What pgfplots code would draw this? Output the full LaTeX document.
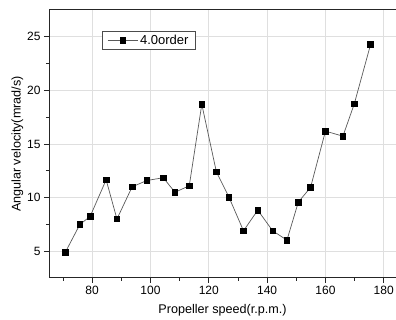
\documentclass[border=0pt]{standalone}
\usepackage{pgfplots}
\pgfplotsset{compat=1.18}
\usepackage{fontspec}
\setmainfont{Liberation Sans}
\begin{document}
\begin{tikzpicture}[x=1pt,y=1pt]
\useasboundingbox (-49,-42) rectangle (347,278);
\begin{axis}[
  scale only axis,
  width=347pt, height=268pt,
  xmin=65.2, xmax=184.2,
  ymin=2.5, ymax=27.5,
  axis x line*=box,
  axis y line*=left,
  axis line style={line width=1pt, black!85},
  xtick={80,100,...,180},
  minor xtick={70,90,...,170},
  ytick={5,10,...,25},
  minor ytick={7.5,12.5,...,22.5},
  tick align=outside,
  major tick length=5pt,
  minor tick length=3pt,
  tick style={black!85, line width=0.8pt},
  xtick pos=bottom,
  grid=major,
  major grid style={gray!25, line width=0.6pt},
  /pgf/number format/assume math mode=true,
  tick label style={font=\fontsize{12}{14}\selectfont},
  xlabel={Propeller speed(r.p.m.)},
  ylabel={Angular velocity(mrad/s)},
  label style={font=\fontsize{12.6}{14}\selectfont},
  xlabel style={yshift=-2pt},
  ylabel style={yshift=-3pt},
  legend style={at={(0.153,0.922)}, anchor=north west, draw=black!70, line width=0.6pt,
    font=\fontsize{13}{15}\selectfont, inner xsep=5pt, inner ysep=1.5pt},
  legend cell align=left,
  legend image code/.code={
    \draw[mark repeat=2,mark phase=2,#1] plot coordinates {(0pt,0pt) (15pt,0pt) (30pt,0pt)};
  },
]
\addplot[black!65, line width=0.7pt, mark=square*, mark size=2.8pt,
  mark options={fill=black, draw=black}] coordinates {
(70.8,4.9) (75.8,7.5) (79.3,8.24) (84.8,11.66) (88.5,8.0) (93.7,11.0)
(98.8,11.6) (104.4,11.85) (108.4,10.5) (113.3,11.1) (117.6,18.7)
(122.6,12.4) (126.9,10.05) (131.9,6.9) (136.8,8.83) (141.9,6.9)
(146.8,6.03) (150.7,9.58) (154.9,10.95) (160.0,16.2) (166.0,15.73)
(169.9,18.75) (175.5,24.3)
};
\addlegendentry{4.0order}
\end{axis}
\end{tikzpicture}
\end{document}
